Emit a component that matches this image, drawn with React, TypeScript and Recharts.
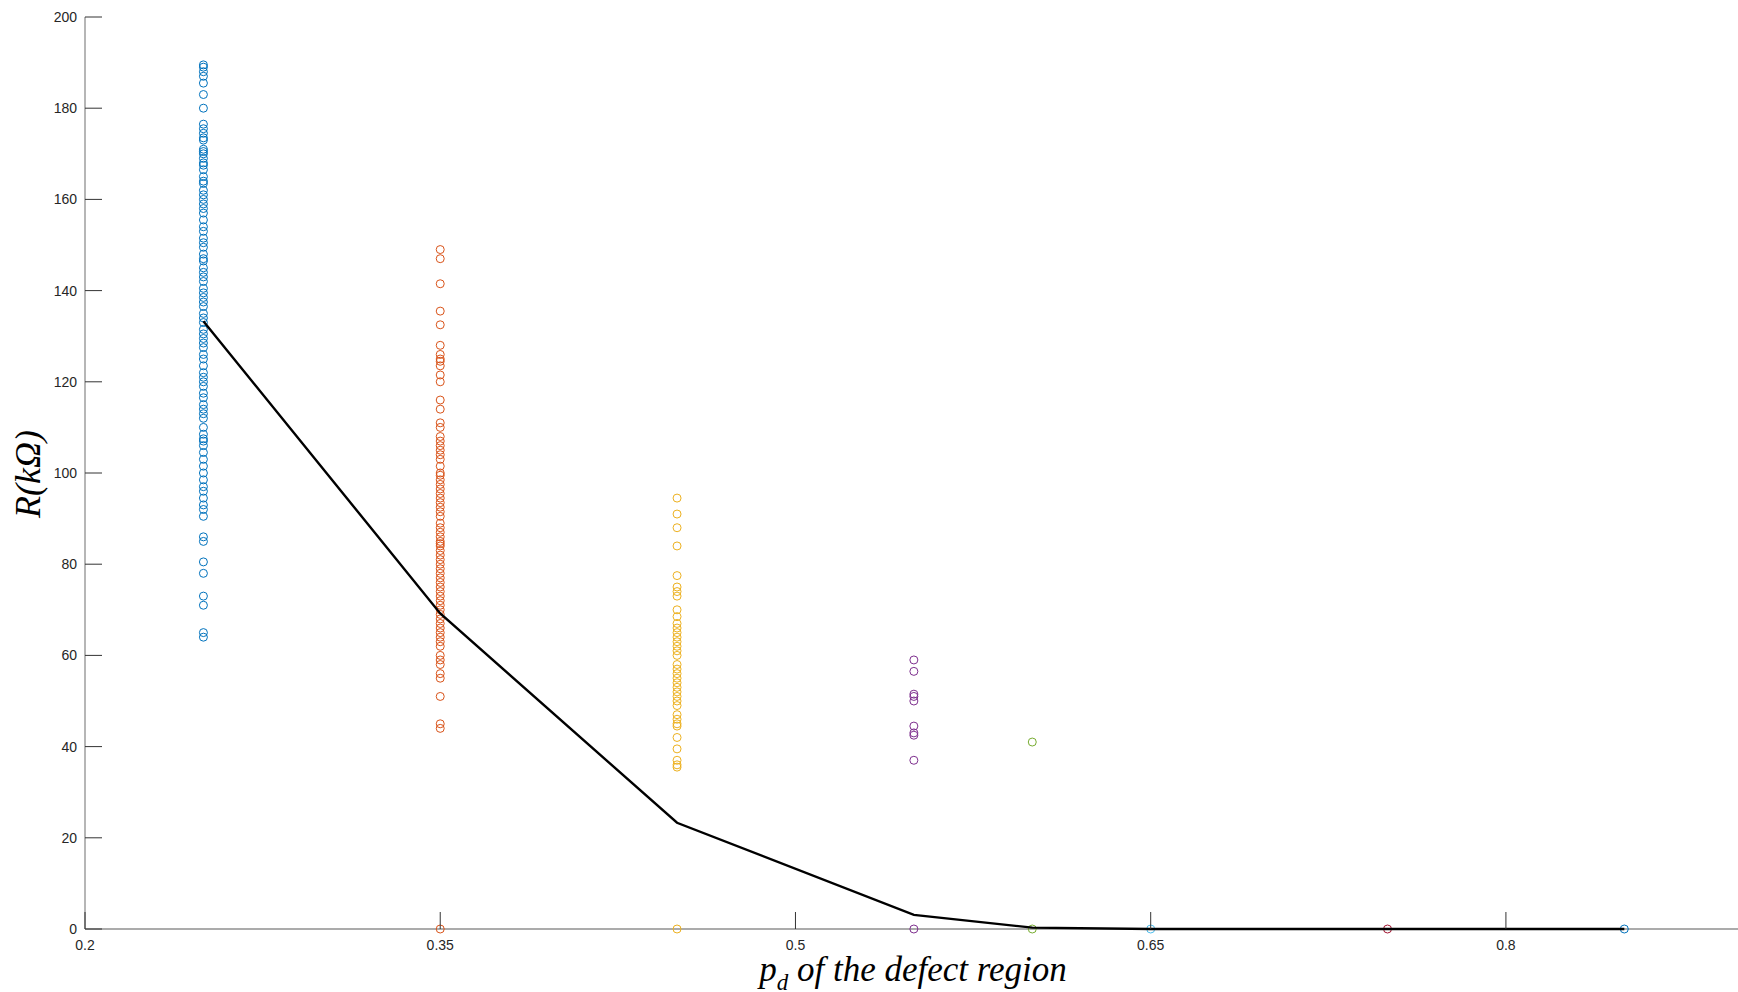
import { ScatterChart, Scatter, XAxis, YAxis } from 'recharts'

// resistance samples (kΩ) read per p_d value
const p025 = [189.5, 189, 188, 187, 185.5, 183, 180, 176.5, 175.5, 174.5, 173.5, 173, 171, 170.5, 170, 169, 168, 167.5, 166.5, 165, 164, 163.5, 162, 161, 160, 159, 158, 157, 155.5, 154, 153, 151.5, 150.5, 149.5, 148, 147, 146.5, 145, 144, 143, 142, 140.5, 139.5, 138.5, 137.5, 136.5, 135, 134, 133, 131.5, 130.5, 129.5, 128.5, 127.5, 126, 125, 123.5, 122, 121, 120, 119, 117.5, 116.5, 115, 114, 113, 112, 110, 108.5, 107.5, 107, 106, 104.5, 103, 101.5, 100, 98.5, 97, 96, 94.5, 93, 92, 90.5, 86, 85, 80.5, 78, 73, 71, 65, 64]
const p035 = [149, 147, 141.5, 135.5, 132.5, 128, 126, 125, 124.5, 123.5, 121.5, 120, 116, 114, 111, 110, 108, 107, 106, 105, 104, 103, 101.5, 100, 99.5, 98.5, 97.5, 96.5, 95.5, 94.5, 93.5, 92.5, 91.5, 90.5, 89, 88, 87, 86, 85, 84.5, 84, 83, 82, 81, 80, 79, 78, 77, 76, 75, 74, 73, 72, 71, 70, 69, 68, 67, 66, 65, 64, 63, 62, 60, 59, 58, 56, 55, 51, 45, 44, 0]
const p045 = [94.5, 91, 88, 84, 77.5, 75, 74, 73, 70, 68.5, 67, 66, 65, 64, 63, 62, 61, 60, 58, 57, 56, 55, 54, 53, 52, 51, 50, 49, 47, 46, 45, 44.5, 42, 39.5, 37, 36, 35.5, 0]
const p055 = [59, 56.5, 51.5, 51, 50, 44.5, 43, 42.5, 37, 0]
const p060 = [41, 0]
const p065 = [0]
const p075 = [0]
const p085 = [0]

const pdValues = [0.25, 0.35, 0.45, 0.55, 0.6, 0.65, 0.75, 0.85]
const meanR = [133.3, 69.2, 23.3, 3.1, 0.3, 0, 0, 0]

const xTicks = [0.2, 0.35, 0.5, 0.65, 0.8]
const yTicks = [0, 20, 40, 60, 80, 100, 120, 140, 160, 180, 200]

const colors = ['#0072BD', '#D95319', '#EDB120', '#7E2F8E', '#77AC30', '#4DBEEE', '#A2142F', '#0072BD']
const samples = [p025, p035, p045, p055, p060, p065, p075, p085]

const series = samples.map((vals, i) => ({
  color: colors[i],
  data: vals.map(v => ({ x: pdValues[i], y: v })),
}))
const meanData = pdValues.map((x, i) => ({ x, y: meanR[i] }))

const W = 1738
const H = 992
const TICK_LEN = 17

const XTick = (props: any) => {
  const { x, y, payload } = props
  return (
    <g>
      <line x1={x} y1={y} x2={x} y2={y - TICK_LEN} stroke="#333" strokeWidth={1} />
      <text x={x} y={y + 21} textAnchor="middle" fill="#262626" fontSize={14} fontFamily="Liberation Sans, Arial">
        {payload.value}
      </text>
    </g>
  )
}

const YTick = (props: any) => {
  const { x, y, payload } = props
  return (
    <g>
      <line x1={x} y1={y} x2={x + TICK_LEN} y2={y} stroke="#333" strokeWidth={1} />
      <text x={x - 8} y={y + 5} textAnchor="end" fill="#262626" fontSize={14} fontFamily="Liberation Sans, Arial">
        {payload.value}
      </text>
    </g>
  )
}

const makeCircle = (color: string) => (props: any) => {
  const { cx, cy } = props
  if (cx == null || cy == null) return <g />
  return <circle cx={cx} cy={cy} r={4} fill="none" stroke={color} strokeWidth={1} />
}

export default function App() {
  return (
    <div style={{ position: 'absolute', left: 0, top: 0, width: W, height: H, background: '#fff' }}>
      <ScatterChart width={W} height={H} margin={{ top: 17, right: 0, left: 0, bottom: 0 }}>
        <XAxis
          type="number"
          dataKey="x"
          domain={[0.2, 0.898]}
          ticks={xTicks}
          allowDataOverflow
          height={63}
          tickSize={0}
          tickMargin={0}
          tickLine={false}
          axisLine={{ stroke: '#8f8f8f', strokeWidth: 1.3 }}
          tick={<XTick />}
        />
        <YAxis
          type="number"
          dataKey="y"
          domain={[0, 200]}
          ticks={yTicks}
          width={85}
          tickSize={0}
          tickMargin={0}
          tickLine={false}
          axisLine={{ stroke: '#8f8f8f', strokeWidth: 1.3 }}
          tick={<YTick />}
        />
        {series.map((s, i) => (
          <Scatter key={i} data={s.data} shape={makeCircle(s.color)} isAnimationActive={false} />
        ))}
        <Scatter
          data={meanData}
          line={{ stroke: '#000', strokeWidth: 2.4 }}
          lineType="joint"
          shape={() => <g />}
          isAnimationActive={false}
        />
      </ScatterChart>
      <div style={{
        position: 'absolute',
        left: 28,
        top: 474,
        transform: 'translate(-50%, -50%) rotate(-90deg)',
        fontFamily: 'Liberation Serif, serif',
        fontStyle: 'italic',
        fontSize: 36,
        color: '#000',
        whiteSpace: 'nowrap',
      }}>
        R(kΩ)
      </div>
      <div style={{
        position: 'absolute',
        left: 913,
        top: 973,
        transform: 'translate(-50%, -50%)',
        fontFamily: 'Liberation Serif, serif',
        fontStyle: 'italic',
        fontSize: 35,
        color: '#000',
        whiteSpace: 'nowrap',
        lineHeight: 1,
      }}>
        p<sub style={{ fontSize: 23, verticalAlign: '-0.35em' }}>d</sub> of the defect region
      </div>
    </div>
  )
}
